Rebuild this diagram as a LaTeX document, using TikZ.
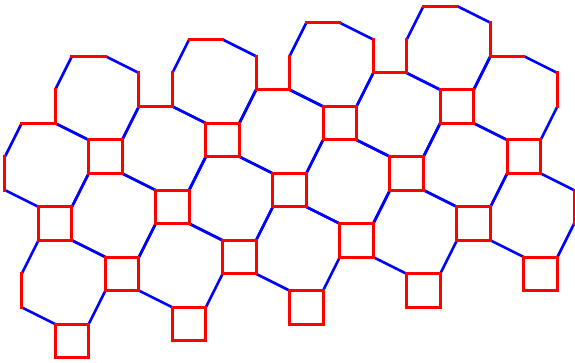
\documentclass[tikz,border=0pt]{standalone}
\usepackage{tikz}

\begin{document}
\begin{tikzpicture}[
  x=3.348mm, y=-3.348mm,
  redside/.style  = {draw=red, line width=0.6mm, line cap=rect},
  blueside/.style = {draw=blue, line width=0.52mm},
]

%% --- frame, same proportions as the sheet ---
\useasboundingbox (0,0) rectangle (34.35,21.68);
\clip (0,0) rectangle (34.35,21.68);

%% --- octagons: blue sides (shared between octagons) ---
\foreach \d/\ilo/\ihi in {0/0/4, 1/0/3, 2/-1/3, 3/-1/2}{
  \foreach \i in {\ilo,...,\ihi}{
    \pgfmathsetmacro\X{2.298+4*\i+3*(\i+\d)}
    \pgfmathsetmacro\Y{12.36+3*\i-4*(\i+\d)}
    \draw[blueside, shift={(\X,\Y)}]
      (2,2) -- (4,3) (4,5) -- (3,7) (1,7) -- (-1,6) (-1,4) -- (0,2);
  }
}

%% --- octagons: red sides ---
\foreach \d/\ilo/\ihi in {0/0/4, 1/0/3, 2/-1/3, 3/-1/2}{
  \foreach \i in {\ilo,...,\ihi}{
    \pgfmathsetmacro\X{2.298+4*\i+3*(\i+\d)}
    \pgfmathsetmacro\Y{12.36+3*\i-4*(\i+\d)}
    \draw[redside, shift={(\X,\Y)}]
      (0,2) -- (2,2) (4,3) -- (4,5) (3,7) -- (1,7) (-1,6) -- (-1,4);
  }
}

%% --- full squares ---
\foreach \d/\ilo/\ihi in {-2/1/5, -1/1/4, 0/0/4, 1/0/3}{
  \foreach \i in {\ilo,...,\ihi}{
    \pgfmathsetmacro\X{2.298+4*\i+3*(\i+\d)}
    \pgfmathsetmacro\Y{12.36+3*\i-4*(\i+\d)}
    \draw[redside] (\X,\Y) rectangle ++(2,2);
  }
}
\end{tikzpicture}
\end{document}
